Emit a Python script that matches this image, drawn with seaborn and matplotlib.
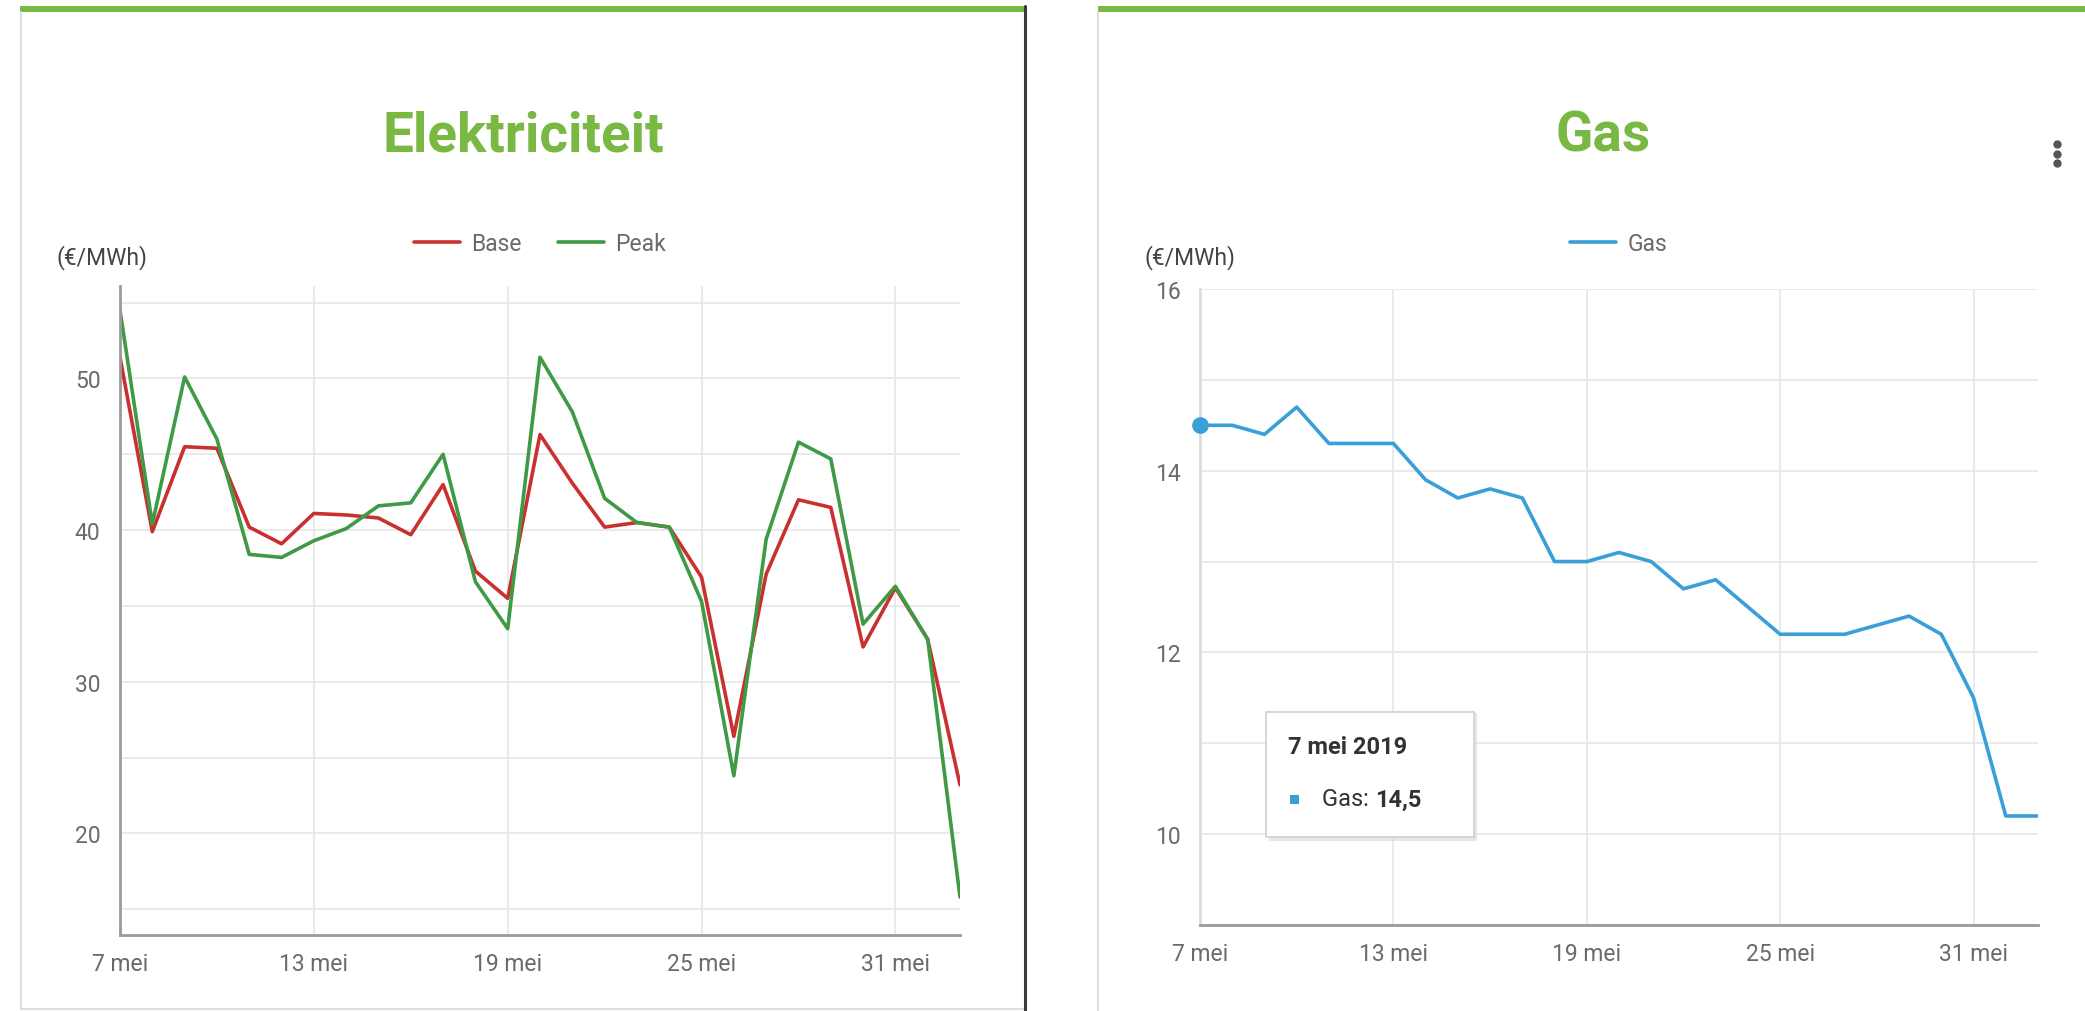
import matplotlib
matplotlib.use('Agg')
import matplotlib.pyplot as plt
import matplotlib.dates as mdates
from matplotlib.lines import Line2D
from matplotlib.patches import Rectangle, FancyBboxPatch
from matplotlib.ticker import FuncFormatter, MultipleLocator
import pandas as pd
import seaborn as sns

# data (7 mei - 2 jun 2019)
start_date = '2019-05-07'
base = [51.4, 39.9, 45.5, 45.4, 40.2, 39.1, 41.1, 41.0, 40.8, 39.7, 43.0, 37.3, 35.5, 46.3,
        43.1, 40.2, 40.5, 40.2, 36.9, 26.4, 37.1, 42.0, 41.5, 32.3, 36.2, 32.8, 23.2]
peak = [54.5, 40.4, 50.1, 46.0, 38.4, 38.2, 39.3, 40.1, 41.6, 41.8, 45.0, 36.6, 33.5, 51.4,
        47.8, 42.1, 40.5, 40.2, 35.3, 23.8, 39.4, 45.8, 44.7, 33.8, 36.3, 32.8, 15.8]
gas = [14.5, 14.5, 14.4, 14.7, 14.3, 14.3, 14.3, 13.9, 13.7, 13.8, 13.7, 13.0, 13.0, 13.1,
       13.0, 12.7, 12.8, 12.5, 12.2, 12.2, 12.2, 12.3, 12.4, 12.2, 11.5, 10.2, 10.2]
tick_days = [7, 13, 19, 25, 31]

dates = pd.date_range(start_date, periods=len(gas), freq='D')
df_el = pd.DataFrame({'datum': list(dates) * 2,
                      'prijs': base + peak,
                      'serie': ['Base'] * len(base) + ['Peak'] * len(peak)})
df_gas = pd.DataFrame({'datum': dates, 'prijs': gas, 'serie': 'Gas'})

RED = '#c8312f'
GREEN = '#3e9a44'
BLUE = '#3a9fd6'
TITLE_GREEN = '#79b843'
TXT = '#6a6a6a'
GRID = '#e8e8e8'

sns.set_theme(style='white')
plt.rcParams['font.family'] = ['Roboto', 'DejaVu Sans']

W, H = 2085, 1012
fig = plt.figure(figsize=(W / 100, H / 100), dpi=100)


def fx(px):
    return px / W


def fy(py):
    return 1 - py / H


def style_axes(ax, ymin, ymax, major, minor, left_spine_color):
    ax.set_xlim(dates[0], dates[-1])
    ax.set_ylim(ymin, ymax)
    ax.xaxis.set_major_locator(mdates.DayLocator(bymonthday=tick_days))
    ax.xaxis.set_major_formatter(FuncFormatter(lambda x, pos: f'{mdates.num2date(x).day} mei'))
    ax.yaxis.set_major_locator(MultipleLocator(major))
    ax.yaxis.set_minor_locator(MultipleLocator(minor))
    ax.grid(True, which='both', axis='y', color=GRID, lw=1.3)
    ax.grid(True, which='major', axis='x', color=GRID, lw=1.3)
    ax.set_axisbelow(True)
    for s in ['top', 'right']:
        ax.spines[s].set_visible(False)
    ax.spines['bottom'].set_color('#9a9a9a')
    ax.spines['bottom'].set_linewidth(2)
    ax.spines['left'].set_color(left_spine_color)
    ax.spines['left'].set_linewidth(2)
    ax.tick_params(axis='both', which='both', length=0, labelsize=16.5, labelcolor=TXT)
    ax.tick_params(axis='y', pad=14)
    ax.tick_params(axis='x', pad=12)
    ax.set_xlabel('')
    ax.set_ylabel('')
    ax.set_facecolor('white')


# Elektriciteit
ax1 = fig.add_axes([fx(120), fy(936), fx(960) - fx(120), fy(287) - fy(936)])
sns.lineplot(data=df_el, x='datum', y='prijs', hue='serie', palette={'Base': RED, 'Peak': GREEN},
             lw=2.6, ax=ax1)
style_axes(ax1, 13.3, 56.1, 10, 5, '#9a9a9a')
ax1.yaxis.set_major_formatter(FuncFormatter(lambda v, pos: f'{v:.0f}' if v >= 20 else ''))
ax1.legend(loc='center', bbox_to_anchor=(0.5, 1.065), ncol=2, frameon=False, fontsize=16.5,
           handlelength=2.0, handletextpad=0.5, columnspacing=1.6, labelcolor=TXT)

# Gas
ax2 = fig.add_axes([fx(1200), fy(926), fx(2038) - fx(1200), fy(290) - fy(926)])
sns.lineplot(data=df_gas, x='datum', y='prijs', hue='serie', palette={'Gas': BLUE}, lw=2.6, ax=ax2)
style_axes(ax2, 9, 16, 2, 1, '#dddddd')
ax2.yaxis.set_major_formatter(FuncFormatter(lambda v, pos: f'{v:.0f}' if v >= 10 else ''))
ax2.legend(loc='center', bbox_to_anchor=(0.5, 1.071), ncol=1, frameon=False, fontsize=16.5,
           handlelength=2.0, handletextpad=0.5, labelcolor=TXT)
ax2.plot(dates[0], gas[0], 'o', ms=11, color=BLUE, clip_on=False, zorder=5)

# titles and unit labels
fig.text(fx(523), fy(137), 'Elektriciteit', ha='center', va='center', fontsize=39.5,
         fontweight='bold', color=TITLE_GREEN)
fig.text(fx(1603), fy(137), 'Gas', ha='center', va='center', fontsize=39.5,
         fontweight='bold', color=TITLE_GREEN)
fig.text(fx(56), fy(258), '(€/MWh)', ha='left', va='center', fontsize=16.5, color='#444444')
fig.text(fx(1145), fy(258), '(€/MWh)', ha='left', va='center', fontsize=16.5, color='#444444')

# panel frames
fig.patches.append(Rectangle((fx(20), fy(13)), fx(1025) - fx(20), fy(7) - fy(13),
                             transform=fig.transFigure, color=TITLE_GREEN, lw=0))
fig.patches.append(Rectangle((fx(1098), fy(13)), fx(2085) - fx(1098), fy(7) - fy(13),
                             transform=fig.transFigure, color=TITLE_GREEN, lw=0))
fig.lines.append(Line2D([fx(21), fx(21)], [fy(13), fy(1010)], transform=fig.transFigure,
                        color='#dddddd', lw=1.5))
fig.lines.append(Line2D([fx(21), fx(1025)], [fy(1010), fy(1010)], transform=fig.transFigure,
                        color='#dddddd', lw=1.5))
fig.lines.append(Line2D([fx(1025), fx(1025)], [fy(7), fy(1012)], transform=fig.transFigure,
                        color='#3a3a3a', lw=2.2))
fig.lines.append(Line2D([fx(1098), fx(1098)], [fy(13), fy(1012)], transform=fig.transFigure,
                        color='#dddddd', lw=1.5))

# menu dots
fig.lines.append(Line2D([fx(2057)] * 3, [fy(145), fy(155), fy(164)], transform=fig.transFigure,
                        ls='none', marker='o', ms=5, color='#555555'))

# tooltip
fig.patches.append(FancyBboxPatch((fx(1269), fy(842)), fx(1477) - fx(1269), fy(714) - fy(842),
                                  boxstyle='square,pad=0', transform=fig.transFigure,
                                  facecolor='#d8d8d8', edgecolor='none', alpha=0.6, zorder=9))
fig.patches.append(FancyBboxPatch((fx(1266), fy(838)), fx(1474) - fx(1266), fy(713) - fy(838),
                                  boxstyle='square,pad=0', transform=fig.transFigure,
                                  facecolor='white', edgecolor='#cfcfcf', lw=1.2, zorder=10))
fig.text(fx(1288), fy(748), f'{dates[0].day} mei {dates[0].year}', ha='left', va='center',
         fontsize=17, fontweight='bold', color='#333333', zorder=11)
fig.patches.append(Rectangle((fx(1290), fy(805)), fx(9), fy(0) - fy(9), transform=fig.transFigure,
                             color=BLUE, lw=0, zorder=11))
t = fig.text(fx(1322), fy(800), 'Gas: ', ha='left', va='center', fontsize=17, color='#333333',
             zorder=11)
fig.canvas.draw()
bb = t.get_window_extent()
fig.text(bb.x1 / W, fy(800), f'{gas[0]:.1f}'.replace('.', ','), ha='left', va='center',
         fontsize=17, fontweight='bold', color='#333333', zorder=11)

fig.savefig('out.png', dpi=100, facecolor='white')
